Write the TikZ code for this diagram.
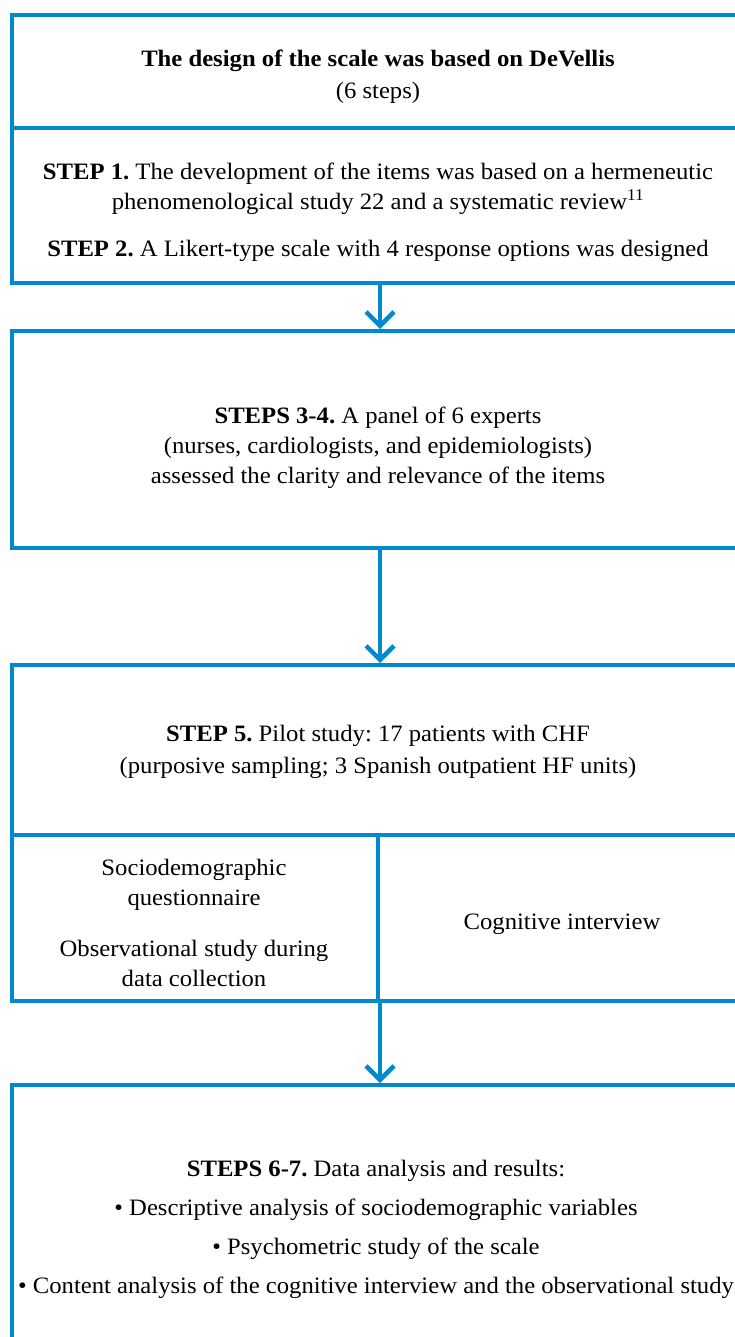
\documentclass[tikz,border=0pt]{standalone}
\usepackage{fontspec}
\setmainfont{Liberation Serif}[FakeStretch=1.05]
\frenchspacing
\usetikzlibrary{arrows.meta}
\definecolor{boxblue}{RGB}{0,137,207}
\begin{document}
\begin{tikzpicture}[x=1pt,y=-1pt,
  box/.style={draw=boxblue,line width=4pt,rectangle,inner sep=0pt,anchor=north west,minimum width=736pt},
  txt/.style={align=center,font=\fontsize{23.5}{30}\selectfont,inner sep=0pt,text=black},
  flow/.style={draw=boxblue,line width=4.5pt,-{Straight Barb[length=14pt,width=28pt]}},
  divider/.style={draw=boxblue,line width=4pt}]
\useasboundingbox (0,0) rectangle (735,1337);
\clip (0,0) rectangle (735,1337);
\fill[white] (0,0) rectangle (735,1337);
% boxes
\node[box,minimum height=268pt] (box1) at (10,13) {};
\node[box,minimum height=217pt] (box2) at (10,329) {};
\node[box,minimum height=336pt] (box3) at (10,663) {};
\node[box,minimum height=300pt] (box4) at (10,1083) {};
% dividers
\draw[divider] (10,128) -- (746,128);
\draw[divider] (10,835) -- (746,835);
\draw[divider] (378,835) -- (378,999);
% arrows
\draw[flow] (box1.south) -- (box2.north);
\draw[flow] (box2.south) -- (box3.north);
\draw[flow] (box3.south) -- (box4.north);
% texts
\node[txt] (title) at (378,77) {\textbf{The design of the scale was based on DeVellis}\\[2pt](6 steps)};
\node[txt] (s1) at (378,189) {\textbf{STEP 1.} The development of the items was based on a hermeneutic\\phenomenological study 22 and a systematic review\textsuperscript{11}};
\node[txt] (s2) at (378,251) {\textbf{STEP 2.} A Likert-type scale with 4 response options was designed};
\node[txt] (s34) at (378,448) {\textbf{STEPS 3-4.} A panel of 6 experts\\(nurses, cardiologists, and epidemiologists)\\assessed the clarity and relevance of the items};
\node[txt] (s5) at (378,752) {\textbf{STEP 5.} Pilot study: 17 patients with CHF\\[2pt](purposive sampling; 3 Spanish outpatient HF units)};
\node[txt] (socio) at (194,884.5) {Sociodemographic\\questionnaire};
\node[txt] (obs) at (194,963) {Observational study during\\data collection};
\node[txt] (cog) at (562,924) {Cognitive interview};
\node[txt] (s67) at (376,1229.5) {\textbf{STEPS 6-7.} Data analysis and results:\\[9pt]• Descriptive analysis of sociodemographic variables\\[9pt]• Psychometric study of the scale\\[9pt]• Content analysis of the cognitive interview and the observational study};
\end{tikzpicture}
\end{document}
